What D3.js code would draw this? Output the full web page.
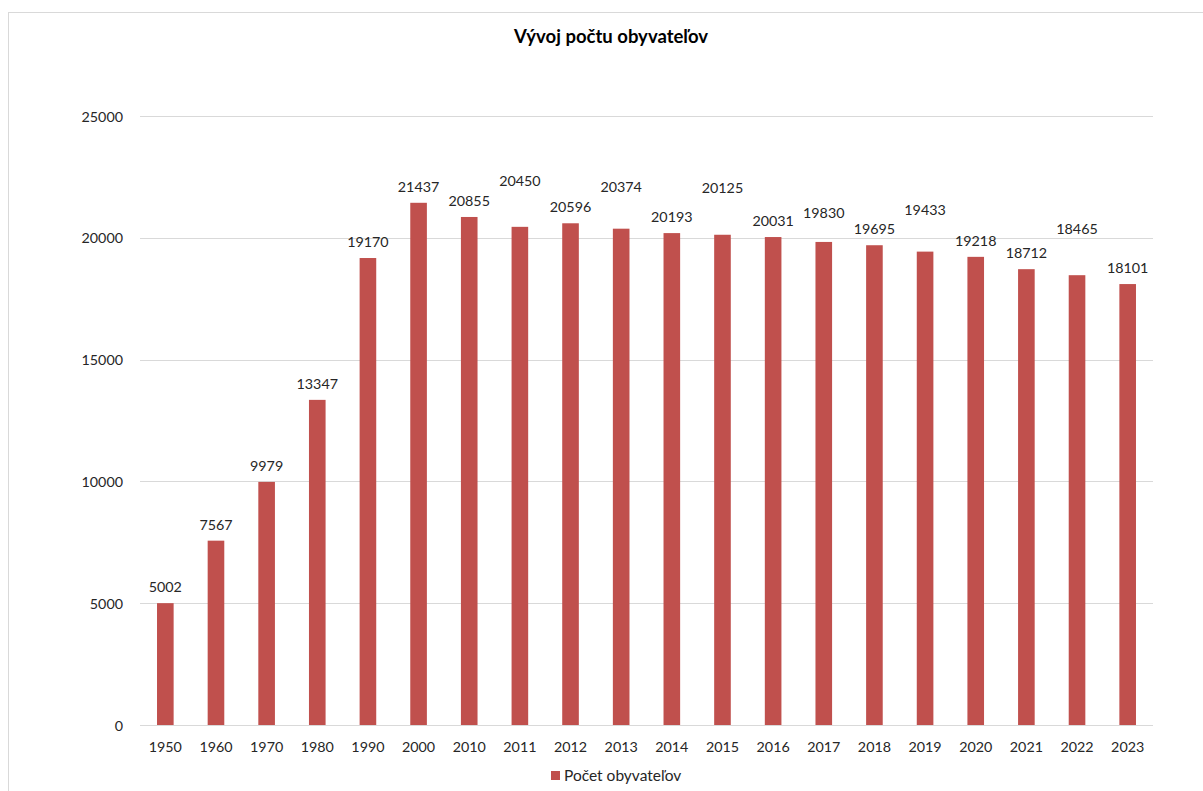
<!DOCTYPE html>
<html>
<head>
<meta charset="utf-8">
<script src="https://cdn.jsdelivr.net/npm/d3@7"></script>
<style>
  html, body { margin: 0; padding: 0; background: #fff; }
  svg { display: block; }
  text { font-family: Lato, "Liberation Sans", sans-serif; fill: #262626; }
</style>
</head>
<body>
<svg id="chart" width="1203" height="791"></svg>
<script>
const title = "Vývoj počtu obyvateľov";
const seriesName = "Počet obyvateľov";
const years = ["1950","1960","1970","1980","1990","2000","2010","2011","2012","2013","2014","2015","2016","2017","2018","2019","2020","2021","2022","2023"];
const population = [5002,7567,9979,13347,19170,21437,20855,20450,20596,20374,20193,20125,20031,19830,19695,19433,19218,18712,18465,18101];
const yTicks = [0,5000,10000,15000,20000,25000];

// layout (not data)
const labelRaise = {"2011": 30, "2013": 26, "2015": 31, "2017": 13, "2019": 26, "2022": 30};
const barColor = "#C0504D";
const svg = d3.select("#chart");
const plot = {left: 140, right: 1153, top: 116, bottom: 725};

// chart border
svg.append("rect")
  .attr("x", 8.5).attr("y", 12.5)
  .attr("width", 1220).attr("height", 800)
  .attr("fill", "none").attr("stroke", "#d9d9d9").attr("stroke-width", 1);

svg.append("text")
  .attr("x", 611).attr("y", 43)
  .attr("text-anchor", "middle")
  .style("font-size", "18.5px").style("font-weight", "bold")
  .style("fill", "#000")
  .text(title);

const x = d3.scaleBand().domain(years).range([plot.left, plot.right]).paddingInner(0.672).paddingOuter(0.336);
const y = d3.scaleLinear().domain([0, 25000]).range([plot.bottom, plot.top]);

// gridlines
svg.append("g").selectAll("line").data(yTicks).join("line")
  .attr("x1", plot.left).attr("x2", plot.right)
  .attr("y1", d => Math.round(y(d)) + 0.5).attr("y2", d => Math.round(y(d)) + 0.5)
  .attr("stroke", "#d9d9d9").attr("stroke-width", 1);

// y axis
const yAxis = d3.axisLeft(y).tickValues(yTicks).tickSize(0).tickPadding(0).tickFormat(d3.format("d"));
const gy = svg.append("g").attr("transform", `translate(123,0)`).call(yAxis);
gy.select(".domain").remove();
gy.selectAll("text").style("font-size", "14.3px").style("fill", "#262626").attr("dy", "0.35em").attr("font-family", null);

// bars
svg.append("g").selectAll("rect").data(years).join("rect")
  .attr("x", d => x(d))
  .attr("width", x.bandwidth())
  .attr("y", (d, i) => y(population[i]))
  .attr("height", (d, i) => y(0) - y(population[i]))
  .attr("fill", barColor);

// baseline over bars
svg.append("line")
  .attr("x1", plot.left).attr("x2", plot.right)
  .attr("y1", Math.round(y(0)) + 0.5).attr("y2", Math.round(y(0)) + 0.5)
  .attr("stroke", "#d9d9d9").attr("stroke-width", 1);

// x axis
const xAxis = d3.axisBottom(x).tickSize(0).tickPadding(0);
const gx = svg.append("g").attr("transform", `translate(0,${plot.bottom})`).call(xAxis);
gx.select(".domain").remove();
gx.selectAll("text").style("font-size", "14.3px").style("fill", "#262626").attr("y", 27).attr("dy", 0).attr("font-family", null);

// data labels
svg.append("g").selectAll("text").data(years).join("text")
  .attr("x", d => x(d) + x.bandwidth() / 2)
  .attr("y", (d, i) => y(population[i]) - 11 - (labelRaise[d] || 0))
  .attr("text-anchor", "middle")
  .style("font-size", "14.3px")
  .text((d, i) => population[i]);

// legend
const lg = svg.append("g");
lg.append("rect").attr("x", 551).attr("y", 771).attr("width", 9).attr("height", 9).attr("fill", barColor);
lg.append("text").attr("x", 564).attr("y", 781).style("font-size", "15.5px").text(seriesName);
</script>
</body>
</html>
